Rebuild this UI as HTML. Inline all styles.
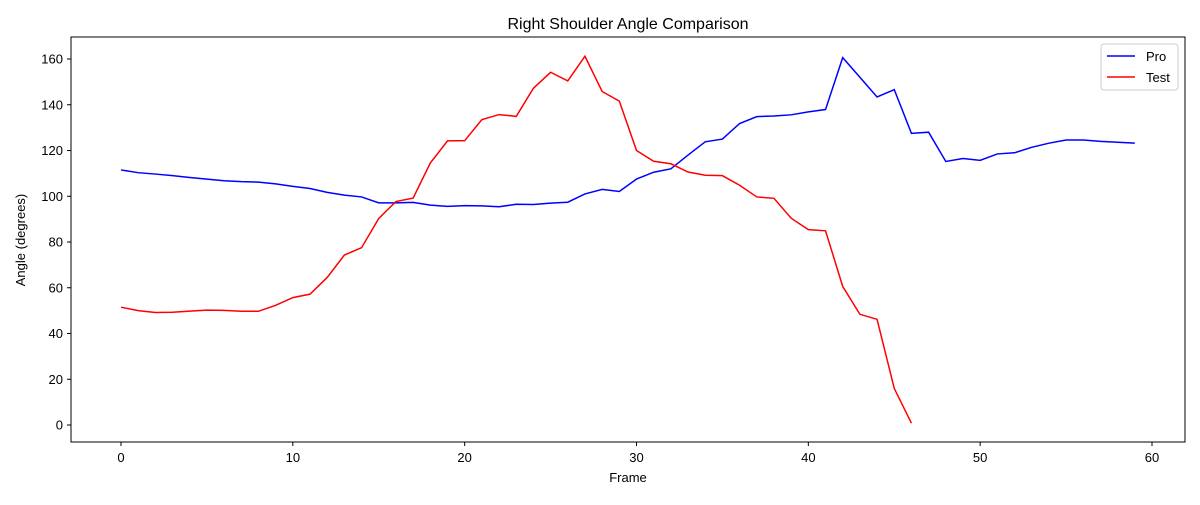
<!DOCTYPE html>
<html><head><meta charset="utf-8"><style>
body{margin:0;background:#fff;}
svg text{font-family:"Liberation Sans","DejaVu Sans",sans-serif;fill:#000;}
</style></head><body>
<svg id="chart" width="1200" height="500">
  <rect x="0" y="0" width="1200" height="500" fill="#fff"/>
  <text x="628" y="29" font-size="16" text-anchor="middle">Right Shoulder Angle Comparison</text>
  <g id="xticks"></g>
  <g id="yticks"></g>
  <g id="lines"></g>
  <rect x="71" y="37" width="1114" height="405" fill="none" stroke="#000" stroke-width="1"/>
  <text x="628" y="482" font-size="13" text-anchor="middle">Frame</text>
  <text x="25" y="240" font-size="13" text-anchor="middle" transform="rotate(-90 25 240)">Angle (degrees)</text>
  <g>
    <rect x="1101" y="44" width="77" height="46" rx="3" fill="#fff" stroke="#ccc"/>
    <g>
      <line x1="1107" y1="56" x2="1135" y2="56" stroke="#0000ff" stroke-width="1.5"/>
      <text x="1146" y="61" font-size="13">Pro</text>
    </g>
    <g>
      <line x1="1107" y1="77" x2="1135" y2="77" stroke="#ff0000" stroke-width="1.5"/>
      <text x="1146" y="82" font-size="13">Test</text>
    </g>
  </g>
</svg>
<script>
const frames = Array.from({length:60},(_,i)=>i);
const proValues = [111.5,110.3,109.7,109.0,108.2,107.5,106.8,106.4,106.2,105.4,104.3,103.4,101.7,100.5,99.7,97.1,97.1,97.3,96.1,95.6,95.9,95.8,95.4,96.5,96.4,97.0,97.4,101.0,103.0,102.1,107.5,110.5,112.0,118.0,123.8,125.0,131.8,134.8,135.1,135.6,136.9,137.9,160.6,152.0,143.4,146.6,127.5,128.0,115.2,116.5,115.7,118.5,119.0,121.4,123.2,124.6,124.6,124.0,123.6,123.2];
const testValues = [51.5,50.0,49.2,49.3,49.8,50.2,50.1,49.7,49.7,52.3,55.7,57.2,64.5,74.3,77.5,90.3,97.7,99.2,114.5,124.2,124.3,133.5,135.7,134.9,147.2,154.2,150.4,161.2,145.8,141.6,120.0,115.3,114.2,110.6,109.2,109.0,104.8,99.7,99.1,90.4,85.4,84.9,60.6,48.4,46.2,16.0,0.8];
const xTicks = [0,10,20,30,40,50,60];
const yTicks = [0,20,40,60,80,100,120,140,160];

const NS="http://www.w3.org/2000/svg";
const xScale = v => 121 + v*(1152-121)/60;
const yScale = v => 425 - v*(425-59)/160;

const xg=document.getElementById('xticks');
xTicks.forEach(t=>{
  const l=document.createElementNS(NS,'line');
  l.setAttribute('x1',xScale(t));l.setAttribute('x2',xScale(t));
  l.setAttribute('y1',442);l.setAttribute('y2',446);l.setAttribute('stroke','#000');
  
  
  xg.appendChild(l);
  const tx=document.createElementNS(NS,'text');
  tx.setAttribute('x',xScale(t));tx.setAttribute('y',462);
  tx.setAttribute('font-size','13');tx.setAttribute('text-anchor','middle');
  tx.textContent=t;
  
  
  xg.appendChild(tx);
});
const yg=document.getElementById('yticks');
yTicks.forEach(t=>{
  const l=document.createElementNS(NS,'line');
  l.setAttribute('x1',67);l.setAttribute('x2',71);
  l.setAttribute('y1',yScale(t));l.setAttribute('y2',yScale(t));l.setAttribute('stroke','#000');
  
  
  yg.appendChild(l);
  const tx=document.createElementNS(NS,'text');
  tx.setAttribute('x',63);tx.setAttribute('y',yScale(t)+4.5);
  tx.setAttribute('font-size','13');tx.setAttribute('text-anchor','end');
  tx.textContent=t;
  
  
  yg.appendChild(tx);
});
const lg=document.getElementById('lines');
function addLine(vals,color,name){
  const p=document.createElementNS(NS,'polyline');
  p.setAttribute('points',vals.map((v,i)=>xScale(frames[i])+','+yScale(v)).join(' '));
  p.setAttribute('fill','none');p.setAttribute('stroke',color);p.setAttribute('stroke-width','1.5');
  
  
  lg.appendChild(p);
}
addLine(proValues,'#0000ff','pro-line');
addLine(testValues,'#ff0000','test-line');
</script>
</body></html>
